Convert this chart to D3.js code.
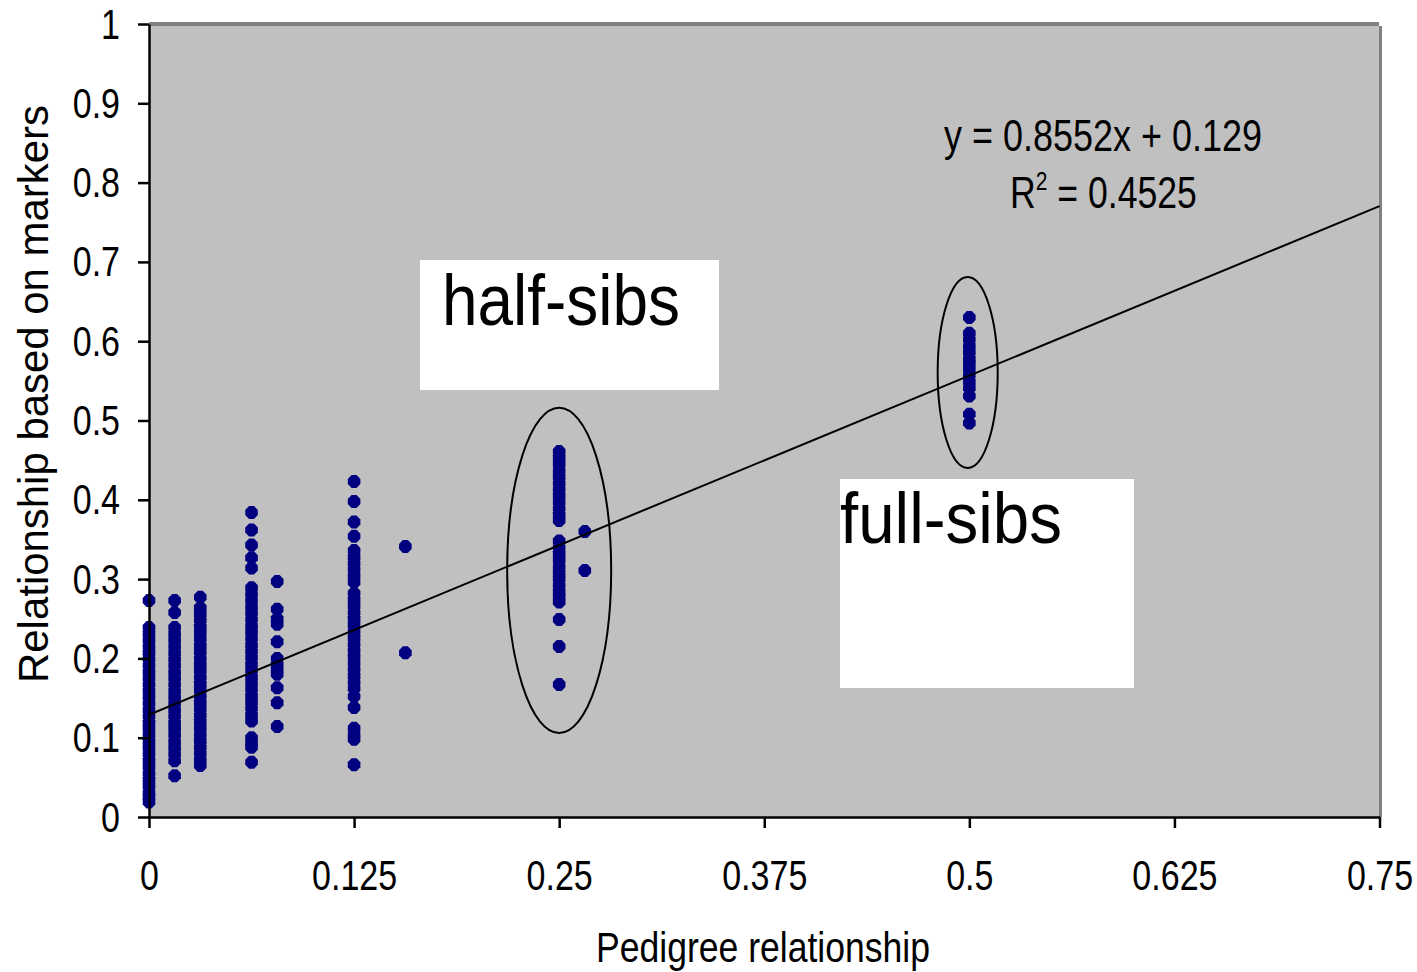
<!DOCTYPE html>
<html>
<head>
<meta charset="utf-8">
<script src="https://cdn.jsdelivr.net/npm/d3@7"></script>
<style>
  html, body { margin: 0; padding: 0; background: #ffffff; }
  svg { display: block; }
  text { font-family: "Liberation Sans", Arial, sans-serif; fill: #000; }
</style>
</head>
<body>
<svg id="chart" width="1417" height="972"></svg>
<script>
// ---------------- data ----------------
const pedigreeValues = [0, 0.015625, 0.03125, 0.0625, 0.078125, 0.125, 0.15625, 0.25, 0.265625, 0.5];

const markersAt0 = [0.273, 0.239, 0.231, 0.223, 0.215, 0.207, 0.199, 0.191, 0.183, 0.175, 0.167, 0.159, 0.151, 0.143, 0.135, 0.127, 0.119, 0.111, 0.103, 0.095, 0.087, 0.079, 0.071, 0.063, 0.055, 0.047, 0.039, 0.031, 0.025, 0.019];
const markersAt1_64 = [0.273, 0.258, 0.239, 0.231, 0.223, 0.215, 0.207, 0.199, 0.191, 0.183, 0.175, 0.167, 0.159, 0.151, 0.143, 0.135, 0.127, 0.119, 0.111, 0.103, 0.095, 0.087, 0.079, 0.071, 0.052];
const markersAt1_32 = [0.277, 0.264, 0.256, 0.248, 0.240, 0.232, 0.224, 0.216, 0.208, 0.200, 0.192, 0.184, 0.176, 0.168, 0.160, 0.152, 0.144, 0.136, 0.128, 0.120, 0.112, 0.104, 0.096, 0.088, 0.080, 0.072, 0.065];
const markersAt1_16 = [0.384, 0.362, 0.343, 0.327, 0.314, 0.289, 0.281, 0.273, 0.265, 0.257, 0.249, 0.241, 0.233, 0.225, 0.217, 0.209, 0.201, 0.193, 0.185, 0.177, 0.169, 0.161, 0.153, 0.145, 0.137, 0.129, 0.121, 0.100, 0.093, 0.088, 0.069];
const markersAt5_64 = [0.297, 0.262, 0.250, 0.243, 0.221, 0.200, 0.192, 0.185, 0.180, 0.163, 0.144, 0.114];
const markersAt1_8 = [0.423, 0.398, 0.372, 0.354, 0.336, 0.328, 0.320, 0.312, 0.304, 0.296, 0.282, 0.274, 0.266, 0.258, 0.250, 0.242, 0.234, 0.226, 0.218, 0.210, 0.202, 0.194, 0.186, 0.178, 0.170, 0.162, 0.152, 0.138, 0.112, 0.104, 0.098, 0.066];
const markersAt5_32 = [0.341, 0.207];
const markersAt1_4 = [0.461, 0.453, 0.445, 0.437, 0.429, 0.421, 0.413, 0.405, 0.397, 0.389, 0.381, 0.374, 0.348, 0.340, 0.332, 0.324, 0.316, 0.308, 0.300, 0.292, 0.284, 0.277, 0.271, 0.249, 0.215, 0.167];
const markersAt17_64 = [0.360, 0.311];
const markersAt1_2 = [0.630, 0.610, 0.602, 0.594, 0.586, 0.578, 0.572, 0.565, 0.557, 0.549, 0.541, 0.531, 0.508, 0.497];

const markerColumns = [markersAt0, markersAt1_64, markersAt1_32, markersAt1_16, markersAt5_64, markersAt1_8, markersAt5_32, markersAt1_4, markersAt17_64, markersAt1_2];

const xTickValues = [0, 0.125, 0.25, 0.375, 0.5, 0.625, 0.75];
const xTickLabels = ["0", "0.125", "0.25", "0.375", "0.5", "0.625", "0.75"];
const yTickValues = [0, 0.1, 0.2, 0.3, 0.4, 0.5, 0.6, 0.7, 0.8, 0.9, 1];
const yTickLabels = ["0", "0.1", "0.2", "0.3", "0.4", "0.5", "0.6", "0.7", "0.8", "0.9", "1"];

const trendSlope = 0.8552;
const trendIntercept = 0.129;
const trendText = "y = 0.8552x + 0.129";
const r2Value = "0.4525";

// ellipse groups: [centerX, centerY, radiusX, radiusY] in data units
const halfSibsEllipse = [0.25, 0.311, 0.0317, 0.205];
const fullSibsEllipse = [0.499, 0.5605, 0.0183, 0.1204];

const xTitle = "Pedigree relationship";
const yTitle = "Relationship based on markers";

// ---------------- drawing ----------------
const svg = d3.select("#chart");
const x = d3.scaleLinear().domain([0, 0.75]).range([149, 1379.5]);
const y = d3.scaleLinear().domain([0, 1]).range([817, 24]);

// plot area
svg.append("rect").attr("x", 149).attr("y", 24).attr("width", 1230).attr("height", 793).attr("fill", "#c0c0c0");
svg.append("rect").attr("x", 149).attr("y", 22).attr("width", 1230).attr("height", 4).attr("fill", "#808080");
svg.append("rect").attr("x", 1379).attr("y", 26).attr("width", 3).attr("height", 791).attr("fill", "#808080");

// points (rounded-diamond markers like the spreadsheet default)
const markerPath = "M-2.5,-6.5 L2.5,-6.5 L6.3,-2.5 L6.3,2.5 L2.5,6.5 L-2.5,6.5 L-6.3,2.5 L-6.3,-2.5 Z";
const points = pedigreeValues.flatMap((p, i) => markerColumns[i].map(v => ({ px: p, py: v })));
svg.append("g").selectAll("path").data(points).join("path")
  .attr("transform", d => `translate(${x(d.px)},${y(d.py)})`)
  .attr("d", markerPath)
  .attr("fill", "#000080");

// trend line
svg.append("line")
  .attr("x1", x(0)).attr("y1", y(trendIntercept))
  .attr("x2", x(0.75)).attr("y2", y(trendSlope * 0.75 + trendIntercept))
  .attr("stroke", "#000").attr("stroke-width", 2);

// ellipses
[halfSibsEllipse, fullSibsEllipse].forEach(e => {
  svg.append("ellipse")
    .attr("cx", x(e[0])).attr("cy", y(e[1]))
    .attr("rx", x(e[2]) - x(0)).attr("ry", y(0) - y(e[3]))
    .attr("fill", "none").attr("stroke", "#000").attr("stroke-width", 2);
});

// axes
const xAxis = d3.axisBottom(x).tickValues(xTickValues).tickFormat((d, i) => xTickLabels[i]).tickSize(11).tickSizeOuter(0);
const gx = svg.append("g").attr("transform", "translate(0,817)").call(xAxis);
gx.select(".domain").attr("stroke", "#000").attr("stroke-width", 2.5);
gx.selectAll(".tick line").attr("stroke", "#000").attr("stroke-width", 2.5);
gx.selectAll(".tick text")
  .attr("y", 73).attr("dy", 0)
  .attr("font-size", 42).attr("font-family", "Liberation Sans, Arial, sans-serif")
  .attr("transform", "scale(0.81,1)");

const yAxis = d3.axisLeft(y).tickValues(yTickValues).tickFormat((d, i) => yTickLabels[i]).tickSize(11).tickSizeOuter(0);
const gy = svg.append("g").attr("transform", "translate(149,0)").call(yAxis);
gy.select(".domain").attr("stroke", "#000").attr("stroke-width", 2.5);
gy.selectAll(".tick line").attr("stroke", "#000").attr("stroke-width", 2.5);
gy.selectAll(".tick text")
  .attr("x", -29 / 0.81).attr("dy", 14)
  .attr("font-size", 42).attr("font-family", "Liberation Sans, Arial, sans-serif")
  .attr("transform", "scale(0.81,1)");

// axis titles
svg.append("text").attr("x", 763).attr("y", 962)
  .attr("text-anchor", "middle").attr("font-size", 42)
  .attr("textLength", 334).attr("lengthAdjust", "spacingAndGlyphs")
  .text(xTitle);
svg.append("text").attr("transform", "translate(48,394) rotate(-90)")
  .attr("text-anchor", "middle").attr("font-size", 42)
  .attr("textLength", 578).attr("lengthAdjust", "spacingAndGlyphs")
  .text(yTitle);

// equation
svg.append("text").attr("x", 1103).attr("y", 151)
  .attr("text-anchor", "middle").attr("font-size", 44)
  .attr("textLength", 318).attr("lengthAdjust", "spacingAndGlyphs")
  .text(trendText);
const r2 = svg.append("text").attr("x", 1010).attr("y", 208).attr("font-size", 44);
r2.append("tspan").text("R");
r2.append("tspan").attr("font-size", 26).attr("dy", -18).text("2");
r2.append("tspan").attr("dy", 18).text(" = " + r2Value);
const r2w = r2.node().getBBox().width || 187;
r2.attr("transform", `translate(1010,0) scale(${187 / r2w},1) translate(-1010,0)`);

// annotation boxes
svg.append("rect").attr("x", 420).attr("y", 260).attr("width", 299).attr("height", 130).attr("fill", "#fff");
svg.append("text").attr("x", 442).attr("y", 325).attr("font-size", 72)
  .attr("textLength", 238).attr("lengthAdjust", "spacingAndGlyphs").text("half-sibs");
svg.append("rect").attr("x", 840).attr("y", 479).attr("width", 294).attr("height", 209).attr("fill", "#fff");
svg.append("text").attr("x", 840).attr("y", 543).attr("font-size", 72)
  .attr("textLength", 222).attr("lengthAdjust", "spacingAndGlyphs").text("full-sibs");
</script>
</body>
</html>
